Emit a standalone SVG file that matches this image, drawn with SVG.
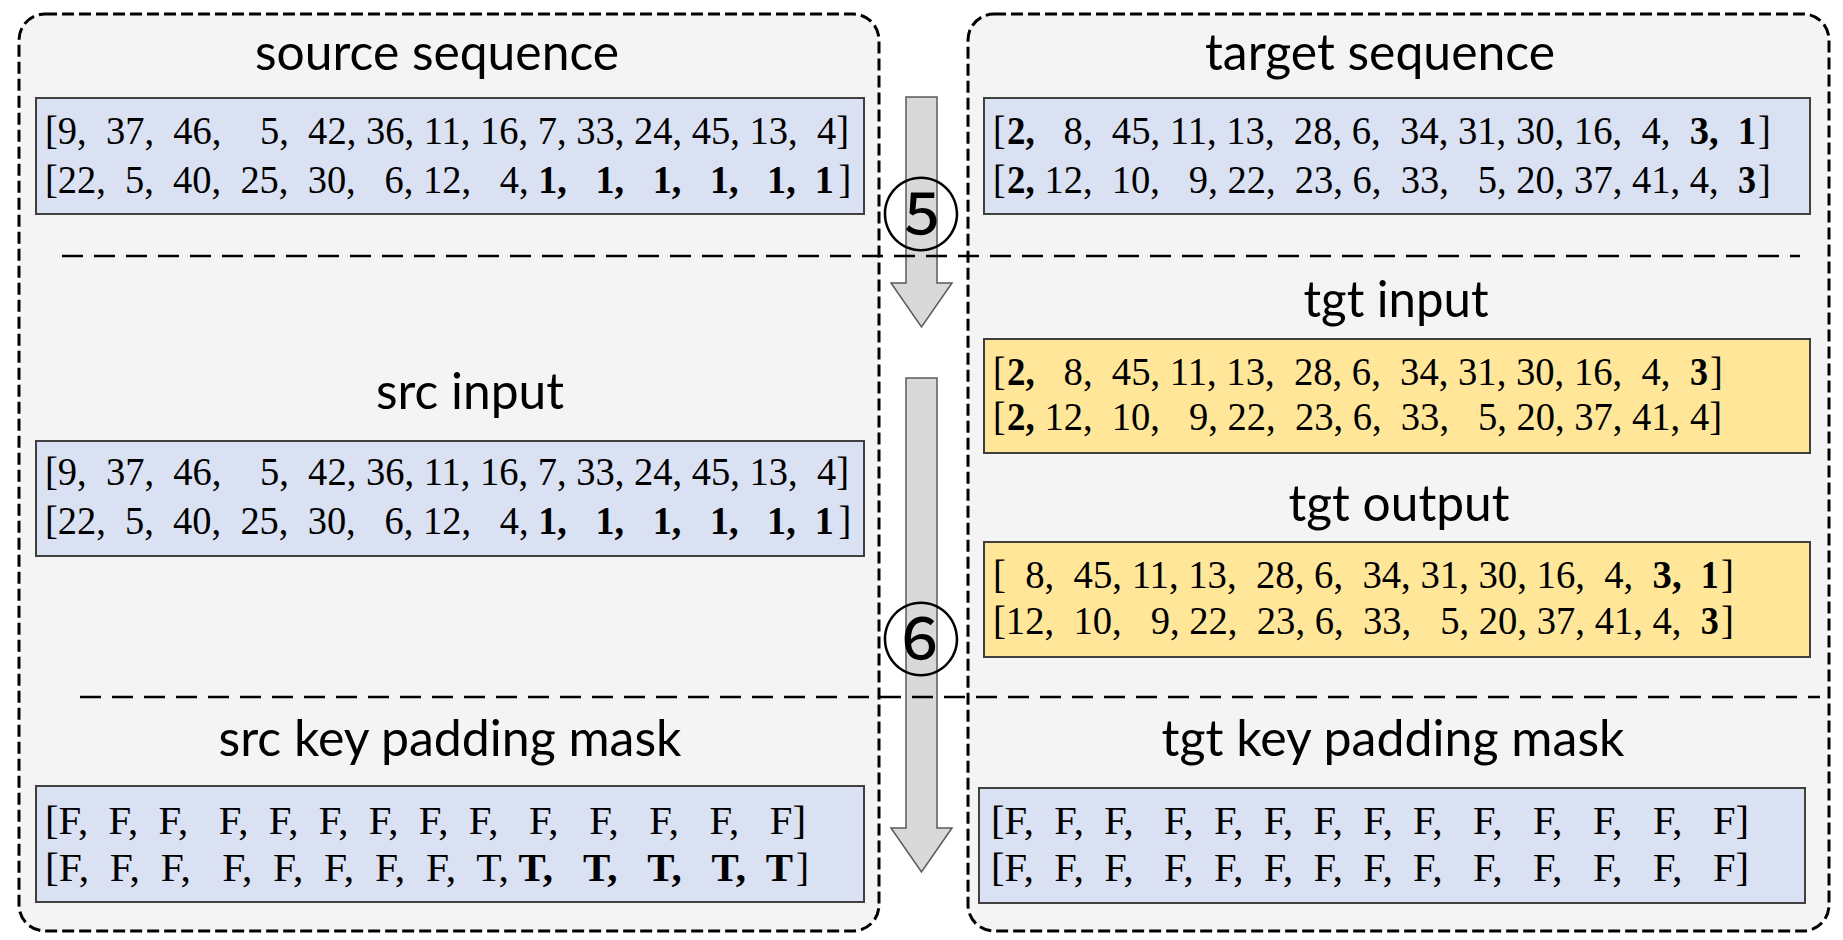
<svg xmlns="http://www.w3.org/2000/svg" width="1843" height="940" viewBox="0 0 1843 940" xml:space="preserve">
<defs>
<style>
text{white-space:pre}
.panel{fill:#f4f4f4;stroke:#000;stroke-width:3;stroke-dasharray:12 5}
.sep{stroke:#000;stroke-width:2.5;stroke-dasharray:21 11;fill:none}
.blue{fill:#dae1f2;stroke:#404040;stroke-width:2}
.yel{fill:#ffe699;stroke:#404040;stroke-width:2}
.title{font-family:Lato,"Open Sans",sans-serif;font-size:50px;fill:#000;text-anchor:middle}
.num{font-family:"Liberation Serif","Times New Roman",serif;font-size:40px;fill:#000;white-space:pre}
.b{font-weight:bold}
.arrow{fill:#d9d9d9;stroke:#595959;stroke-width:1.5}
.circ{font-family:"Noto Sans CJK JP","Noto Sans CJK SC",sans-serif;font-size:80px;text-anchor:middle;fill:#000}
</style>
</defs>
<rect width="1843" height="940" fill="#fff"/>
<g id="left-panel"><rect class="panel" x="19" y="14" width="860" height="917" rx="26"/></g>
<g id="right-panel"><rect class="panel" x="968" y="14" width="861" height="917" rx="26"/></g>

<g id="source-sequence">
<text class="title" x="437" y="70" textLength="364" lengthAdjust="spacingAndGlyphs">source sequence</text>
<rect class="blue" x="36" y="98" width="828" height="116"/>
<text class="num" x="45" y="144" textLength="804" lengthAdjust="spacingAndGlyphs">[9,  37,  46,    5,  42, 36, 11, 16, 7, 33, 24, 45, 13,  4]</text>
<text class="num" x="45" y="193" textLength="483.7" lengthAdjust="spacingAndGlyphs">[22,  5,  40,  25,  30,   6, 12,   4,</text>
<text class="num b" x="538.3" y="193" textLength="295.5" lengthAdjust="spacingAndGlyphs">1,   1,   1,   1,   1,  1</text>
<text class="num" x="838.5" y="193" textLength="12.8" lengthAdjust="spacingAndGlyphs">]</text>
</g>

<g id="target-sequence">
<text class="title" x="1380" y="70" textLength="350" lengthAdjust="spacingAndGlyphs">target sequence</text>
<rect class="blue" x="984" y="98" width="826" height="116"/>
<text class="num" x="993" y="144" textLength="12.5" lengthAdjust="spacingAndGlyphs">[</text>
<text class="num b" x="1007" y="144" textLength="27.7" lengthAdjust="spacingAndGlyphs">2,</text>
<text class="num" x="1063.6" y="144" textLength="606.8" lengthAdjust="spacingAndGlyphs">8,  45, 11, 13,  28, 6,  34, 31, 30, 16,  4,</text>
<text class="num b" x="1689.7" y="144" textLength="28.9" lengthAdjust="spacingAndGlyphs">3,</text>
<text class="num b" x="1737.9" y="144" textLength="18" lengthAdjust="spacingAndGlyphs">1</text>
<text class="num" x="1758" y="144" textLength="12.8" lengthAdjust="spacingAndGlyphs">]</text>
<text class="num" x="993" y="193" textLength="12.5" lengthAdjust="spacingAndGlyphs">[</text>
<text class="num b" x="1007" y="193" textLength="27.7" lengthAdjust="spacingAndGlyphs">2,</text>
<text class="num" x="1044.4" y="193" textLength="674.2" lengthAdjust="spacingAndGlyphs">12,  10,   9, 22,  23, 6,  33,   5, 20, 37, 41, 4,</text>
<text class="num b" x="1737.9" y="193" textLength="18" lengthAdjust="spacingAndGlyphs">3</text>
<text class="num" x="1758" y="193" textLength="12.8" lengthAdjust="spacingAndGlyphs">]</text>
</g>

<g id="src-input">
<text class="title" x="470" y="409" textLength="188" lengthAdjust="spacingAndGlyphs">src input</text>
<rect class="blue" x="36" y="441" width="828" height="115"/>
<text class="num" x="45" y="485" textLength="804" lengthAdjust="spacingAndGlyphs">[9,  37,  46,    5,  42, 36, 11, 16, 7, 33, 24, 45, 13,  4]</text>
<text class="num" x="45" y="534" textLength="483.7" lengthAdjust="spacingAndGlyphs">[22,  5,  40,  25,  30,   6, 12,   4,</text>
<text class="num b" x="538.3" y="534" textLength="295.5" lengthAdjust="spacingAndGlyphs">1,   1,   1,   1,   1,  1</text>
<text class="num" x="838.5" y="534" textLength="12.8" lengthAdjust="spacingAndGlyphs">]</text>
</g>

<g id="tgt-input">
<text class="title" x="1396" y="317" textLength="185" lengthAdjust="spacingAndGlyphs">tgt input</text>
<rect class="yel" x="984" y="339" width="826" height="114"/>
<text class="num" x="993" y="385" textLength="12.5" lengthAdjust="spacingAndGlyphs">[</text>
<text class="num b" x="1007" y="385" textLength="27.7" lengthAdjust="spacingAndGlyphs">2,</text>
<text class="num" x="1063.6" y="385" textLength="606.9" lengthAdjust="spacingAndGlyphs">8,  45, 11, 13,  28, 6,  34, 31, 30, 16,  4,</text>
<text class="num b" x="1689.9" y="385" textLength="18" lengthAdjust="spacingAndGlyphs">3</text>
<text class="num" x="1710" y="385" textLength="12.8" lengthAdjust="spacingAndGlyphs">]</text>
<text class="num" x="993" y="430" textLength="12.5" lengthAdjust="spacingAndGlyphs">[</text>
<text class="num b" x="1007" y="430" textLength="27.7" lengthAdjust="spacingAndGlyphs">2,</text>
<text class="num" x="1044.4" y="430" textLength="677.6" lengthAdjust="spacingAndGlyphs">12,  10,   9, 22,  23, 6,  33,   5, 20, 37, 41, 4]</text>
</g>

<g id="tgt-output">
<text class="title" x="1399" y="521" textLength="221" lengthAdjust="spacingAndGlyphs">tgt output</text>
<rect class="yel" x="984" y="542" width="826" height="115"/>
<text class="num" x="993" y="588" textLength="640.3" lengthAdjust="spacingAndGlyphs">[  8,  45, 11, 13,  28, 6,  34, 31, 30, 16,  4,</text>
<text class="num b" x="1652.6" y="588" textLength="29" lengthAdjust="spacingAndGlyphs">3,</text>
<text class="num b" x="1700.8" y="588" textLength="18" lengthAdjust="spacingAndGlyphs">1</text>
<text class="num" x="1721" y="588" textLength="12.9" lengthAdjust="spacingAndGlyphs">]</text>
<text class="num" x="993" y="634" textLength="688.5" lengthAdjust="spacingAndGlyphs">[12,  10,   9, 22,  23, 6,  33,   5, 20, 37, 41, 4,</text>
<text class="num b" x="1700.8" y="634" textLength="18" lengthAdjust="spacingAndGlyphs">3</text>
<text class="num" x="1721" y="634" textLength="12.9" lengthAdjust="spacingAndGlyphs">]</text>
</g>

<g id="src-key-padding-mask">
<text class="title" x="450" y="756" textLength="463" lengthAdjust="spacingAndGlyphs">src key padding mask</text>
<rect class="blue" x="36" y="786" width="828" height="116"/>
<text class="num" x="45" y="834" textLength="761" lengthAdjust="spacingAndGlyphs">[F,  F,  F,   F,  F,  F,  F,  F,  F,   F,   F,   F,   F,   F]</text>
<text class="num" x="45" y="881" textLength="463.9" lengthAdjust="spacingAndGlyphs">[F,  F,  F,   F,  F,  F,  F,  F,  T,</text>
<text class="num b" x="518.6" y="881" textLength="274.4" lengthAdjust="spacingAndGlyphs">T,   T,   T,   T,  T</text>
<text class="num" x="796" y="881" textLength="13" lengthAdjust="spacingAndGlyphs">]</text>
</g>

<g id="tgt-key-padding-mask">
<text class="title" x="1393" y="756" textLength="463" lengthAdjust="spacingAndGlyphs">tgt key padding mask</text>
<rect class="blue" x="979" y="788" width="826" height="115"/>
<text class="num" x="991" y="834" textLength="758" lengthAdjust="spacingAndGlyphs">[F,  F,  F,   F,  F,  F,  F,  F,  F,   F,   F,   F,   F,   F]</text>
<text class="num" x="991" y="881" textLength="758" lengthAdjust="spacingAndGlyphs">[F,  F,  F,   F,  F,  F,  F,  F,  F,   F,   F,   F,   F,   F]</text>
</g>

<g id="connectors">
<polygon id="arrow5" class="arrow" points="906,97 937,97 937,283 952,283 921.5,327 891,283 906,283"/>
<polygon id="arrow6" class="arrow" points="906,378 937,378 937,828 952,828 921.5,872 891,828 906,828"/>
<line class="sep" x1="62" y1="256" x2="1800" y2="256"/>
<line class="sep" x1="80" y1="697" x2="1820" y2="697"/>
<text class="circ" x="921" y="244">⑤</text>
<text class="circ" x="921" y="669">⑥</text>
</g>
</svg>
